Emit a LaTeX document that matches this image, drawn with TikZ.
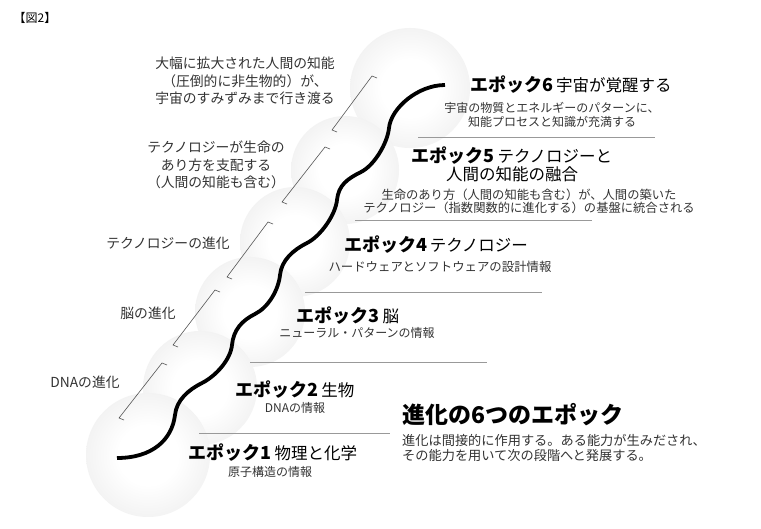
\documentclass[tikz,border=0pt]{standalone}
\usepackage{fontspec}
\setmainfont{Noto Sans CJK JP}
\usetikzlibrary{fadings,calc}
\pgfdeclareradialshading{orb}{\pgfpointorigin}{color(0bp)=(white); color(12bp)=(white); color(26bp)=(black!5); color(36bp)=(black!13); color(43bp)=(black!27); color(50bp)=(black!20)}
\pgfdeclareradialshading{orbfadeshade}{\pgfpointorigin}{color(0bp)=(white); color(40bp)=(white); color(50bp)=(black)}
\pgfdeclarefading{orbfade}{\pgfuseshading{orbfadeshade}}
\definecolor{subc}{HTML}{333333}
\definecolor{rulec}{HTML}{999999}
\definecolor{brkc}{HTML}{555555}
\newcommand{\ephead}[2]{{\fontsize{18}{20}\selectfont\bfseries エポック#1}\hspace{3pt}{\fontsize{16.5}{20}\selectfont #2}}
\begin{document}
\begin{tikzpicture}[x=1pt,y=-1pt,
  epttl/.style={inner sep=0pt, align=center, text=black},
  epsub/.style={inner sep=0pt, align=center, text=subc, font=\fontsize{12}{14}\selectfont},
  lbl/.style={inner sep=0pt, align=center, text=subc, font=\fontsize{13.8}{17.5}\selectfont},
  sepline/.style={draw=rulec, line width=0.9pt},
  brkt/.style={draw=brkc, line width=0.6pt},
  orbstyle/.style={shading=orb, path fading=orbfade}]
\useasboundingbox[fill=white] (0,0) rectangle (761,528);
% spheres
\foreach \cx/\cy/\r in {410/88/60, 345/170/54, 295/242/55, 250/312/55, 200/388/57, 148/455/62}
  \shade[orbstyle] (\cx,\cy) circle[radius=\r];
% wave
\draw[line width=3.8pt] (117,458)
  .. controls (152,458) and (172,440) .. (175,415)
  .. controls (176.5,400) and (188.6,389.7) .. (202,383)
  .. controls (215.4,376.3) and (230.5,360) .. (232,345)
  .. controls (233.5,330) and (241.6,320.7) .. (255,314)
  .. controls (268.4,307.3) and (278.5,290) .. (280,275)
  .. controls (281.5,260) and (293.6,249.7) .. (307,243)
  .. controls (320.4,236.3) and (335.5,215) .. (337,200)
  .. controls (338.5,185) and (347.6,178.7) .. (361,172)
  .. controls (374.4,165.3) and (387.5,143) .. (389,128)
  .. controls (391,108) and (418,85) .. (445,85);
% brackets
\foreach \n/\tx/\ty/\bx/\by in {1/372/76/332/130, 2/325/147/282/202, 3/268/222/227/277, 4/215/290/173/345, 5/162/363/119/418}{
  \coordinate (bt\n) at (\tx,\ty);
  \coordinate (bb\n) at (\bx,\by);
  \draw[brkt] ($(bt\n)+(5,2)$) -- (bt\n) -- (bb\n) -- ($(bb\n)+(5,2)$);
}
% figure label
\node[inner sep=0pt, font=\fontsize{12}{14}\selectfont] (fig) at (35,18) {【図2】};
% left labels
\node[lbl] (l1) at (245,81) {大幅に拡大された人間の知能\\（圧倒的に非生物的）が、\\宇宙のすみずみまで行き渡る};
\node[lbl] (l2) at (216,165) {テクノロジーが生命の\\あり方を支配する\\（人間の知能も含む）};
\node[lbl] (l3) at (168,243) {テクノロジーの進化};
\node[lbl] (l4) at (148,313) {脳の進化};
\node[lbl] (l5) at (85,382) {DNAの進化};
% epoch 6
\node[epttl] (e6) at (571,85) {\ephead{6}{宇宙が覚醒する}};
\node[epsub, font=\fontsize{12}{14.5}\selectfont] (s6) at (552,115) {宇宙の物質とエネルギーのパターンに、\\知能プロセスと知識が充満する};
\coordinate (r6a) at (418,137); \coordinate (r6b) at (655,137);
\draw[sepline] (r6a) -- (r6b);
% epoch 5
\node[epttl, font=\fontsize{16.5}{17.5}\selectfont] (e5) at (512,164.5) {{\fontsize{18}{17.5}\selectfont\bfseries エポック5}\hspace{3pt}テクノロジーと\\人間の知能の融合};
\node[epsub, font=\fontsize{12.3}{13.5}\selectfont] (s5) at (529,201.5) {生命のあり方（人間の知能も含む）が、人間の築いた\\テクノロジー（指数関数的に進化する）の基盤に統合される};
\coordinate (r5a) at (355,220); \coordinate (r5b) at (592,220);
\draw[sepline] (r5a) -- (r5b);
% epoch 4
\node[epttl] (e4) at (436,245) {\ephead{4}{テクノロジー}};
\node[epsub, font=\fontsize{12.4}{14}\selectfont] (s4) at (440,267) {ハードウェアとソフトウェアの設計情報};
\coordinate (r4a) at (305,292); \coordinate (r4b) at (542,292);
\draw[sepline] (r4a) -- (r4b);
% epoch 3
\node[epttl] (e3) at (348,316) {\ephead{3}{脳}};
\node[epsub] (s3) at (357,333) {ニューラル・パターンの情報};
\coordinate (r3a) at (250,362); \coordinate (r3b) at (487,362);
\draw[sepline] (r3a) -- (r3b);
% epoch 2
\node[epttl] (e2) at (295,390) {\ephead{2}{生物}};
\node[epsub] (s2) at (295,408) {DNAの情報};
\coordinate (r2a) at (199,433); \coordinate (r2b) at (390,433);
\draw[sepline] (r2a) -- (r2b);
% epoch 1
\node[epttl] (e1) at (273,453) {\ephead{1}{物理と化学}};
\node[epsub] (s1) at (270,472) {原子構造の情報};
% main title
\node[inner sep=0pt, anchor=west, font=\fontsize{23}{26}\selectfont\bfseries] (ttl) at (402,415) {進化の6つのエポック};
\node[inner sep=0pt, anchor=west, align=left, text=subc, font=\fontsize{13.2}{15}\selectfont] (ttls) at (402,447.5) {進化は間接的に作用する。ある能力が生みだされ、\\その能力を用いて次の段階へと発展する。};
\end{tikzpicture}
\end{document}
